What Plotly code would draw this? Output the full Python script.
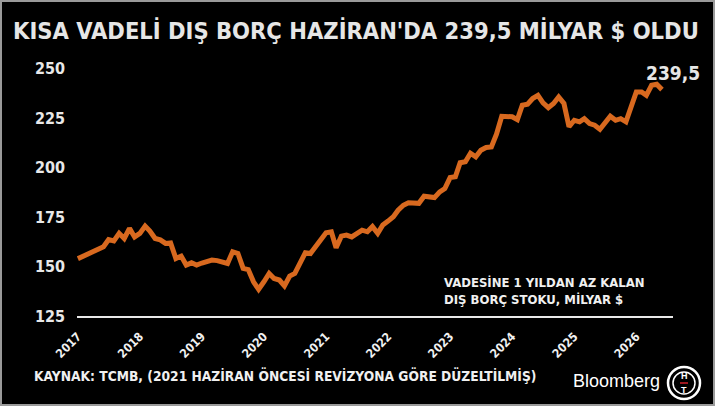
import pandas as pd
import plotly.graph_objects as go

# monthly short-term external debt stock, billion $
debt = [
    154.0, 155.2, 156.3, 157.5, 158.8, 160.0, 163.7, 163.0, 166.8, 164.2, 169.3, 165.0,  # 2017
    166.8, 170.5, 168.0, 164.2, 163.5, 161.7, 162.0, 154.1, 155.3, 150.8, 151.9, 150.8,  # 2018
    151.8, 152.8, 153.3, 153.0, 152.0, 151.6, 157.5, 156.6, 149.1, 148.5, 142.3, 138.5,  # 2019
    142.3, 146.5, 144.0, 143.2, 140.2, 145.2, 146.5, 152.5, 157.0, 156.6, 160.0, 164.2,  # 2020
    167.1, 167.6, 159.5, 165.4, 165.9, 165.0, 167.0, 168.4, 167.6, 170.2, 166.8, 171.0,  # 2021
    173.0, 175.2, 178.5, 181.0, 182.3, 182.1, 182.0, 185.6, 185.2, 184.9, 187.8, 189.5,  # 2022
    195.0, 195.4, 202.5, 203.0, 207.3, 205.5, 208.8, 210.2, 210.5, 217.0, 226.0, 226.2,  # 2023
    225.8, 224.3, 231.6, 232.1, 235.0, 236.6, 232.8, 230.4, 232.5, 235.8, 232.5, 220.7,  # 2024
    224.0, 223.2, 224.8, 222.3, 221.5, 219.4, 222.3, 226.0, 224.0, 224.8, 223.2, 230.7,  # 2025
    238.3, 238.3, 236.6, 241.7, 242.2, 239.5,  # 2026
]
months = pd.date_range("2017-01-01", periods=len(debt), freq="MS")
years = ["2017", "2018", "2019", "2020", "2021", "2022", "2023", "2024", "2025", "2026"]
y_ticks = [125, 150, 175, 200, 225, 250]
last_label = "239,5"

W, H = 715, 406
L, R, T, B = 77, 673, 57, 316   # plot box in pixels


def px(x):
    return (x - L) / (R - L)


def py(y):
    return (B - y) / (B - T)


cond = "DejaVu Sans Condensed, DejaVu Sans, sans-serif"
orange = "#d8691f"

fig = go.Figure()
fig.add_trace(go.Scatter(
    x=months, y=debt, mode="lines",
    line=dict(color=orange, width=5, shape="linear"),
    hoverinfo="skip", showlegend=False,
))

fig.update_layout(
    width=W, height=H,
    margin=dict(l=L, r=W - R, t=T, b=H - B),
    paper_bgcolor="black", plot_bgcolor="black",
    font=dict(family=cond, color="#f0f0f0"),
    xaxis=dict(
        type="date", range=["2016-12-27", "2026-08-05"],
        tickvals=[y + "-01-01" for y in years], ticktext=years,
        tickangle=-45, tickfont=dict(size=12, weight="bold", color="#f0f0f0"),
        showgrid=False, zeroline=False,
        showline=True, linecolor="#e8e8e8", linewidth=1.5,
        ticks="", ticklabelstandoff=7,
    ),
    yaxis=dict(
        range=[125, 256], tickvals=y_ticks,
        tickfont=dict(size=16, weight="bold", color="#e8e8e8"),
        showgrid=False, zeroline=False, showline=False,
        ticks="", ticklabelstandoff=11,
    ),
)

annos = [
    dict(text="KISA VADELİ DIŞ BORÇ HAZİRAN'DA 239,5 MİLYAR $ OLDU",
         x=px(356), y=py(31), xanchor="center", yanchor="middle",
         font=dict(size=23.5, weight="bold", color="#e6e6e6")),
    dict(text="VADESİNE 1 YILDAN AZ KALAN<br>DIŞ BORÇ STOKU, MİLYAR $",
         x=px(442), y=py(291), xanchor="left", yanchor="middle", align="left",
         font=dict(size=13, weight="bold", color="#f0f0f0")),
    dict(text="KAYNAK: TCMB, (2021 HAZİRAN ÖNCESİ REVİZYONA GÖRE DÜZELTİLMİŞ)",
         x=px(32), y=py(375), xanchor="left", yanchor="middle",
         font=dict(size=13.7, weight="bold", color="#f0f0f0")),
    dict(text="Bloomberg", x=px(662), y=py(381), xanchor="right", yanchor="middle",
         font=dict(family="Liberation Sans, Arial, sans-serif", size=18, color="white")),
    dict(text="H", x=px(684), y=py(376), xanchor="center", yanchor="middle",
         font=dict(family="Liberation Sans, Arial", size=9, weight="bold", color="white")),
    dict(text="T", x=px(684), y=py(390), xanchor="center", yanchor="middle",
         font=dict(family="Liberation Sans, Arial", size=9, weight="bold", color="white")),
]
for a in annos:
    fig.add_annotation(xref="paper", yref="paper", showarrow=False, **a)

# value label at the last point
fig.add_annotation(x=months[-1], y=debt[-1], text=last_label, showarrow=False,
                   xanchor="center", yanchor="bottom", xshift=11, yshift=4,
                   font=dict(size=19, weight="bold", color="#e6e6e6"))

shapes = [
    # thin grey frame around the image
    dict(type="rect", x0=px(1), x1=px(714), y0=py(405), y1=py(1),
         line=dict(color="#9a9a9a", width=2)),
    # HT logo rings
    dict(type="circle", x0=px(668), x1=px(700), y0=py(399), y1=py(367),
         line=dict(color="white", width=2.5)),
    dict(type="circle", x0=px(673), x1=px(695), y0=py(394), y1=py(372),
         line=dict(color="white", width=1.5)),
    dict(type="line", x0=px(680), x1=px(688), y0=py(383), y1=py(383),
         line=dict(color="#d0202a", width=1.5)),
]
for s in shapes:
    fig.add_shape(xref="paper", yref="paper", layer="above", **s)

# page body has a default margin; drop it so the figure fills the window
fig.write_html("out.html", config={"displayModeBar": False},
               post_script="document.body.style.margin='0';")
